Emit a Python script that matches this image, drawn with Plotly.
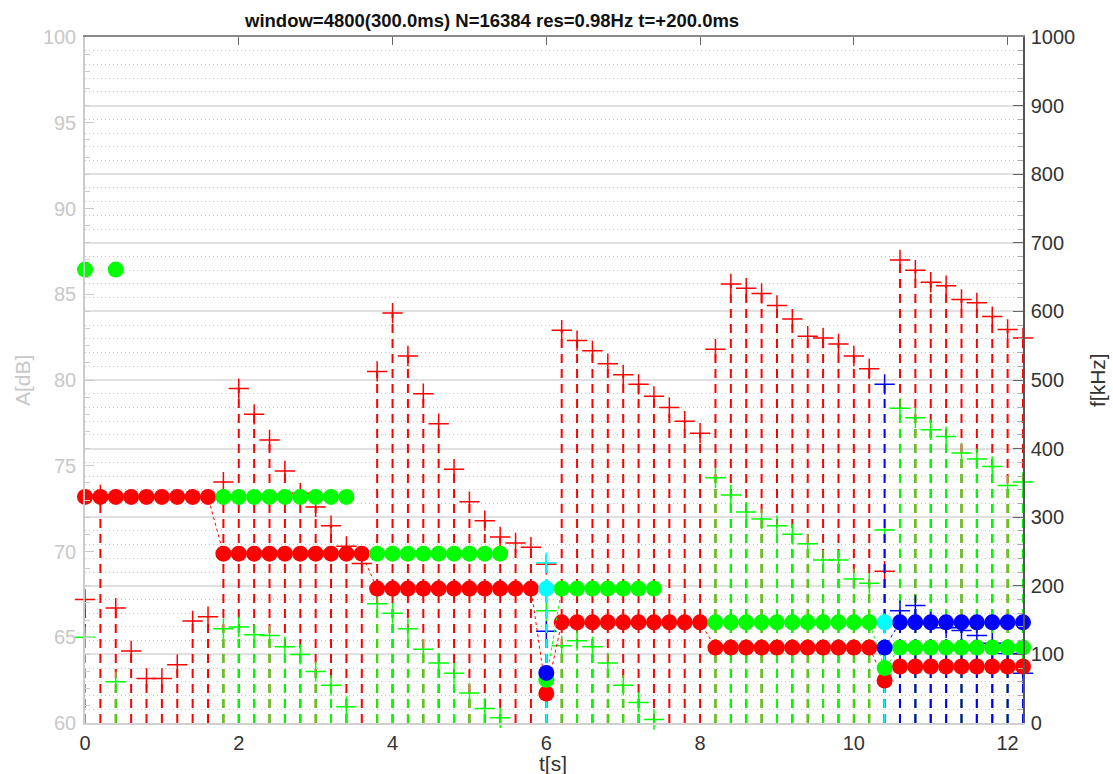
import plotly.graph_objects as go

N = None

# frame times [s]
t_s = [
    0.0, 0.2, 0.4, 0.6, 0.8, 1.0, 1.2, 1.4, 1.6, 1.8,
    2.0, 2.2, 2.4, 2.6, 2.8, 3.0, 3.2, 3.4, 3.6, 3.8,
    4.0, 4.2, 4.4, 4.6, 4.8, 5.0, 5.2, 5.4, 5.6, 5.8,
    6.0, 6.2, 6.4, 6.6, 6.8, 7.0, 7.2, 7.4, 7.6, 7.8,
    8.0, 8.2, 8.4, 8.6, 8.8, 9.0, 9.2, 9.4, 9.6, 9.8,
    10.0, 10.2, 10.4, 10.6, 10.8, 11.0, 11.2, 11.4, 11.6, 11.8,
    12.0, 12.2,
]

# peak frequencies per track (right axis, kHz)
red_f = [
    329.6, 329.6, 329.6, 329.6, 329.6, 329.6, 329.6, 329.6, 329.6, 246.9,
    246.9, 246.9, 246.9, 246.9, 246.9, 246.9, 246.9, 246.9, 246.9, 196.0,
    196.0, 196.0, 196.0, 196.0, 196.0, 196.0, 196.0, 196.0, 196.0, 196.0,
    43.0, 146.8, 146.8, 146.8, 146.8, 146.8, 146.8, 146.8, 146.8, 146.8,
    146.8, 110.0, 110.0, 110.0, 110.0, 110.0, 110.0, 110.0, 110.0, 110.0,
    110.0, 110.0, 62.0, 82.4, 82.4, 82.4, 82.4, 82.4, 82.4, 82.4,
    82.4, 82.4,
]
green_f = [
    661.0, N, 661.0, N, N, N, N, N, N, 329.6,
    329.6, 329.6, 329.6, 329.6, 329.6, 329.6, 329.6, 329.6, N, 246.9,
    246.9, 246.9, 246.9, 246.9, 246.9, 246.9, 246.9, 246.9, N, N,
    63.0, 196.0, 196.0, 196.0, 196.0, 196.0, 196.0, 196.0, N, N,
    N, 146.8, 146.8, 146.8, 146.8, 146.8, 146.8, 146.8, 146.8, 146.8,
    146.8, 146.8, 80.0, 110.0, 110.0, 110.0, 110.0, 110.0, 110.0, 110.0,
    110.0, 110.0,
]
blue_f = [
    N, N, N, N, N, N, N, N, N, N,
    N, N, N, N, N, N, N, N, N, N,
    N, N, N, N, N, N, N, N, N, N,
    73.0, N, N, N, N, N, N, N, N, N,
    N, N, N, N, N, N, N, N, N, N,
    N, N, 110.0, 146.8, 146.8, 146.8, 146.8, 146.8, 146.8, 146.8,
    146.8, 146.8,
]
cyan_f = [
    N, N, N, N, N, N, N, N, N, N,
    N, N, N, N, N, N, N, N, N, N,
    N, N, N, N, N, N, N, N, N, N,
    196.0, N, N, N, N, N, N, N, N, N,
    N, N, N, N, N, N, N, N, N, N,
    N, N, 146.8, N, N, N, N, N, N, N,
    N, N,
]

# peak amplitudes per track (left axis, dB)
red_a = [
    67.2, 73.3, 66.7, 64.2, 62.6, 62.6, 63.4, 65.95, 66.2, 74.05,
    79.5, 78.0, 76.5, 74.7, 73.4, 72.6, 71.5, 70.3, 69.3, 80.5,
    83.9, 81.4, 79.2, 77.45, 74.8, 72.9, 71.8, 70.85, 70.5, 70.25,
    69.25, 82.9, 82.3, 81.7, 80.95, 80.3, 79.75, 79.05, 78.4, 77.6,
    76.9, 81.8, 85.6, 85.35, 85.05, 84.35, 83.55, 82.55, 82.45, 82.1,
    81.4, 80.65, 68.85, 87.0, 86.4, 85.7, 85.5, 84.7, 84.5, 83.7,
    82.95, 82.45,
]
green_a = [
    65.0, N, 62.4, N, N, N, N, N, N, 65.5,
    65.6, 65.15, 65.1, 64.45, 64.0, 63.0, 62.2, 60.95, N, 66.95,
    66.4, 65.5, 64.3, 63.5, 62.9, 61.75, 60.85, 60.3, N, N,
    66.55, 64.5, 64.8, 64.45, 63.5, 62.2, 61.2, 60.2, N, N,
    N, 74.3, 73.3, 72.3, 71.9, 71.5, 71.0, 70.45, 69.5, 69.5,
    68.4, 68.15, 71.25, 78.35, 77.8, 77.1, 76.7, 75.75, 75.4, 74.95,
    73.85, 74.05,
]
blue_a = [
    N, N, N, N, N, N, N, N, N, N,
    N, N, N, N, N, N, N, N, N, N,
    N, N, N, N, N, N, N, N, N, N,
    65.35, N, N, N, N, N, N, N, N, N,
    N, N, N, N, N, N, N, N, N, N,
    N, N, 79.75, 66.55, 66.85, 65.9, 65.55, 65.4, 65.1, 64.65,
    64.05, 62.9,
]
cyan_a = [
    N, N, N, N, N, N, N, N, N, N,
    N, N, N, N, N, N, N, N, N, N,
    N, N, N, N, N, N, N, N, N, N,
    69.35, N, N, N, N, N, N, N, N, N,
    N, N, N, N, N, N, N, N, N, N,
    N, N, 65.8, N, N, N, N, N, N, N,
    N, N,
]

A_RANGE = [60, 100]
F_RANGE = [0, 1000]
T_RANGE = [0, 12.2]

tracks = [
    ("#ff0000", red_f, red_a),
    ("#00ff00", green_f, green_a),
    ("#0000ff", blue_f, blue_a),
    ("#00ffff", cyan_f, cyan_a),
]

FONT = "Liberation Sans, Arial, Helvetica, sans-serif"

fig = go.Figure()

# amplitude stems and crosses
for col, f, a in tracks:
    xs, ys = [], []
    for ti, ai in zip(t_s, a):
        if ai is None:
            continue
        xs += [ti, ti, None]
        ys += [A_RANGE[0], ai, None]
    fig.add_trace(go.Scatter(
        x=xs, y=ys, mode="lines", yaxis="y",
        line=dict(color=col, width=2, dash="9px,6px"),
        hoverinfo="skip", showlegend=False,
    ))
    fig.add_trace(go.Scatter(
        x=t_s, y=a, mode="markers", yaxis="y", cliponaxis=False,
        marker=dict(symbol="cross-thin", size=14.5,
                    line=dict(color=col, width=1.5)),
        showlegend=False,
    ))

# frequency tracks (dotted link + filled dots)
for col, f, a in tracks:
    fig.add_trace(go.Scatter(
        x=t_s, y=f, mode="lines+markers", yaxis="y2", cliponaxis=False,
        line=dict(color=col, width=1, dash="dot"),
        marker=dict(symbol="circle", size=16, color=col, line=dict(width=0)),
        showlegend=False,
    ))

# top frame axis carrier
fig.add_trace(go.Scatter(x=T_RANGE, y=[N, N], xaxis="x2", yaxis="y",
                         mode="lines", showlegend=False, hoverinfo="skip"))

fig.update_layout(
    width=1113, height=774,
    margin=dict(l=85, r=90, t=37, b=51),
    paper_bgcolor="white", plot_bgcolor="white",
    font=dict(family=FONT, color="#333333"),
    showlegend=False,
    xaxis=dict(
        range=T_RANGE, dtick=2, tick0=0,
        showgrid=False, zeroline=False,
        showline=True, linecolor="#d0d0d0", linewidth=2,
        ticks="", tickfont=dict(size=20, color="#333333"),
        ticklabelstandoff=1,
    ),
    xaxis2=dict(
        overlaying="x", side="top", matches="x", range=T_RANGE,
        dtick=2, tick0=0, showgrid=False, zeroline=False,
        showline=True, linecolor="#8a8a8a", linewidth=1.5,
        ticks="inside", ticklen=8, tickwidth=1, tickcolor="#666666",
        showticklabels=False,
    ),
    yaxis=dict(
        range=A_RANGE, dtick=5, tick0=60,
        showgrid=False, zeroline=False,
        showline=True, linecolor="#cccccc", linewidth=1.5,
        ticks="inside", ticklen=9, tickwidth=1, tickcolor="#cccccc",
        minor=dict(dtick=1, ticks="inside", ticklen=5, tickcolor="#cccccc",
                   showgrid=False),
        tickfont=dict(size=20, color="#c8c8c8"),
        ticklabelstandoff=3,
    ),
    yaxis2=dict(
        overlaying="y", side="right", range=F_RANGE, dtick=100, tick0=0,
        showgrid=True, gridcolor="#e0e0e0", gridwidth=1.5,
        zeroline=False,
        showline=True, linecolor="#555555", linewidth=1.5,
        ticks="inside", ticklen=10, tickwidth=1, tickcolor="#666666",
        minor=dict(dtick=20, ticks="inside", ticklen=5, tickcolor="#aaaaaa",
                   showgrid=True, gridcolor="#c4c4c4", griddash="1px,3px",
                   gridwidth=1),
        tickfont=dict(size=20, color="#333333"),
        ticklabelstandoff=2,
    ),
    annotations=[
        dict(text="<b>window=4800(300.0ms) N=16384 res=0.98Hz t=+200.0ms</b>",
             xref="paper", yref="paper", x=0.4334, y=1.0236,
             xanchor="center", yanchor="middle", showarrow=False,
             font=dict(size=18.5, color="#111111", family=FONT)),
        dict(text="t[s]", xref="paper", yref="paper", x=0.4989, y=-0.0585,
             xanchor="center", yanchor="middle", showarrow=False,
             font=dict(size=21, color="#333333", family=FONT)),
        dict(text="A[dB]", xref="paper", yref="paper", x=-0.0672, y=0.5,
             xanchor="center", yanchor="middle", showarrow=False,
             textangle=-90, font=dict(size=21, color="#c8c8c8", family=FONT)),
        dict(text="f[kHz]", xref="paper", yref="paper", x=1.0789, y=0.5,
             xanchor="center", yanchor="middle", showarrow=False,
             textangle=-90, font=dict(size=21, color="#333333", family=FONT)),
    ],
)

fig.write_html("out.html")
